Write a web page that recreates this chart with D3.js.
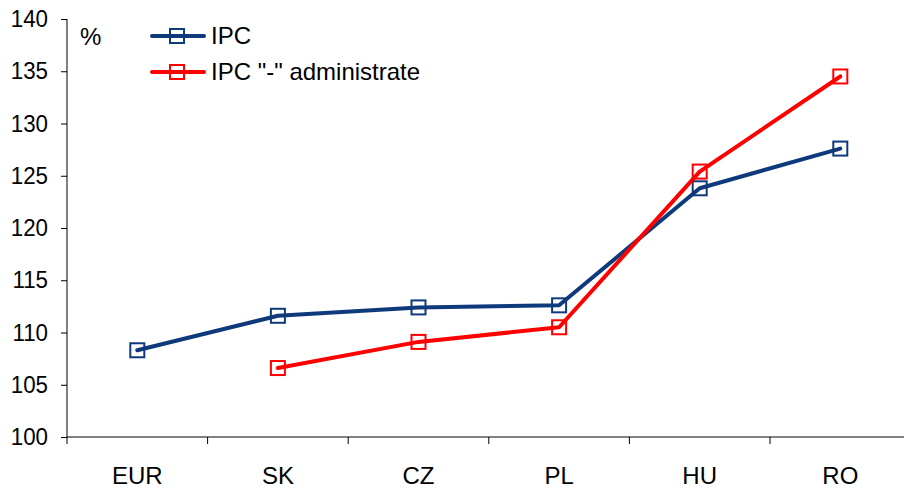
<!DOCTYPE html>
<html><head><meta charset="utf-8">
<script src="https://cdn.jsdelivr.net/npm/d3@7"></script>
<style>body{margin:0;background:#fff}svg{display:block}text{font-family:"Liberation Sans",Arial,sans-serif}</style>
</head><body>
<svg id="c" width="904" height="492"></svg>
<script>
const categories = ["EUR","SK","CZ","PL","HU","RO"];
const ipc = [108.3, 111.6, 112.4, 112.6, 123.8, 127.6];
const ipcAdmin = [null, 106.6, 109.1, 110.5, 125.4, 134.5];
const yTicks = [100,105,110,115,120,125,130,135,140];
const seriesNames = ["IPC", "IPC \"-\" administrate"];
const colors = ["#0e3a7c", "#ff0000"];

const svg = d3.select("#c");
const mLeft = 67, mTop = 19, mBottom = 437;
const bw = 140.6;
const FS = 24;
const x = d3.scaleBand().domain(categories).range([mLeft, mLeft + bw*categories.length]).padding(0);
const y = d3.scaleLinear().domain([100,140]).range([mBottom, mTop]);

// y axis
const ya = svg.append("g").attr("transform",`translate(${mLeft},0)`)
  .call(d3.axisLeft(y).tickValues(yTicks).tickSize(6).tickPadding(13).tickFormat(d3.format("d")));
ya.select(".domain").attr("stroke","#000").attr("d",`M0,${mTop}V${mBottom}`);
ya.selectAll(".tick line").attr("stroke","#000");
ya.selectAll(".tick text").attr("font-size",FS).attr("fill","#000").attr("font-family","Liberation Sans, Arial, sans-serif")
  .attr("transform","scale(0.93,1)").attr("x",-19/0.93);

// x axis
const xa = svg.append("g").attr("transform",`translate(0,${mBottom})`)
  .call(d3.axisBottom(x).tickSize(0).tickPadding(30));
xa.select(".domain").attr("stroke","#000").attr("d",`M${mLeft},0H904`);
xa.selectAll(".tick text").attr("font-size",FS).attr("fill","#000").attr("font-family","Liberation Sans, Arial, sans-serif");
// category boundary ticks
svg.append("g").selectAll("line").data(d3.range(categories.length+1)).join("line")
  .attr("x1",i=>mLeft+i*bw).attr("x2",i=>mLeft+i*bw)
  .attr("y1",mBottom).attr("y2",mBottom+7).attr("stroke","#000");

const cx = c => x(c) + x.bandwidth()/2;
const series = [ipc, ipcAdmin];
series.forEach((vals,si)=>{
  const pts = categories.map((c,i)=>({c,v:vals[i]})).filter(d=>d.v!=null);
  svg.append("path").datum(pts)
    .attr("d", d3.line().x(d=>cx(d.c)).y(d=>y(d.v)))
    .attr("fill","none").attr("stroke",colors[si]).attr("stroke-width",4).attr("stroke-linejoin","round").attr("stroke-linecap","round");
  svg.append("g").selectAll("rect").data(pts).join("rect")
    .attr("x",d=>cx(d.c)-7).attr("y",d=>y(d.v)-7).attr("width",14).attr("height",14)
    .attr("fill","none").attr("stroke",colors[si]).attr("stroke-width",2);
});

// % label
svg.append("text").attr("x",80).attr("y",45).attr("font-size",FS).text("%");

// legend
seriesNames.forEach((n,i)=>{
  const ly = 36 + i*36;
  const g = svg.append("g");
  g.append("line").attr("x1",152).attr("x2",204).attr("y1",ly).attr("y2",ly).attr("stroke",colors[i]).attr("stroke-width",4).attr("stroke-linecap","round");
  g.append("rect").attr("x",170).attr("y",ly-7).attr("width",14).attr("height",14).attr("fill","none").attr("stroke",colors[i]).attr("stroke-width",2);
  g.append("text").attr("x",211).attr("y",ly+7.5).attr("font-size",FS).text(n);
});
</script>
</body></html>
